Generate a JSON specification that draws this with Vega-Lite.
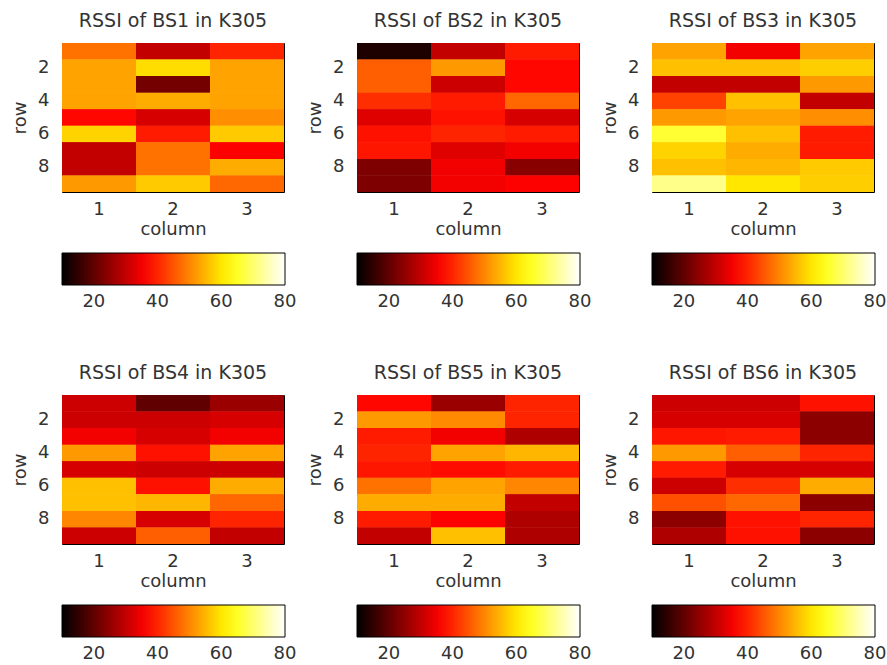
{
  "$schema": "https://vega.github.io/schema/vega-lite/v6.json",
  "background": "white",
  "padding": {"left": 11, "top": 11, "right": 0, "bottom": 0},
  "data": {"values": [
    {"bs":1,"row":1,"col":1,"rssi":48},{"bs":1,"row":1,"col":2,"rssi":30},{"bs":1,"row":1,"col":3,"rssi":40},
    {"bs":1,"row":2,"col":1,"rssi":53},{"bs":1,"row":2,"col":2,"rssi":59},{"bs":1,"row":2,"col":3,"rssi":53},
    {"bs":1,"row":3,"col":1,"rssi":53},{"bs":1,"row":3,"col":2,"rssi":22},{"bs":1,"row":3,"col":3,"rssi":53},
    {"bs":1,"row":4,"col":1,"rssi":53},{"bs":1,"row":4,"col":2,"rssi":54},{"bs":1,"row":4,"col":3,"rssi":53},
    {"bs":1,"row":5,"col":1,"rssi":37},{"bs":1,"row":5,"col":2,"rssi":32},{"bs":1,"row":5,"col":3,"rssi":51},
    {"bs":1,"row":6,"col":1,"rssi":58},{"bs":1,"row":6,"col":2,"rssi":39},{"bs":1,"row":6,"col":3,"rssi":57},
    {"bs":1,"row":7,"col":1,"rssi":30},{"bs":1,"row":7,"col":2,"rssi":48},{"bs":1,"row":7,"col":3,"rssi":36},
    {"bs":1,"row":8,"col":1,"rssi":30},{"bs":1,"row":8,"col":2,"rssi":48},{"bs":1,"row":8,"col":3,"rssi":54},
    {"bs":1,"row":9,"col":1,"rssi":52},{"bs":1,"row":9,"col":2,"rssi":57},{"bs":1,"row":9,"col":3,"rssi":47},
    {"bs":2,"row":1,"col":1,"rssi":13},{"bs":2,"row":1,"col":2,"rssi":30},{"bs":2,"row":1,"col":3,"rssi":39},
    {"bs":2,"row":2,"col":1,"rssi":46},{"bs":2,"row":2,"col":2,"rssi":52},{"bs":2,"row":2,"col":3,"rssi":37},
    {"bs":2,"row":3,"col":1,"rssi":46},{"bs":2,"row":3,"col":2,"rssi":31},{"bs":2,"row":3,"col":3,"rssi":37},
    {"bs":2,"row":4,"col":1,"rssi":41},{"bs":2,"row":4,"col":2,"rssi":39},{"bs":2,"row":4,"col":3,"rssi":47},
    {"bs":2,"row":5,"col":1,"rssi":33},{"bs":2,"row":5,"col":2,"rssi":38},{"bs":2,"row":5,"col":3,"rssi":32},
    {"bs":2,"row":6,"col":1,"rssi":38},{"bs":2,"row":6,"col":2,"rssi":40},{"bs":2,"row":6,"col":3,"rssi":39},
    {"bs":2,"row":7,"col":1,"rssi":38.5},{"bs":2,"row":7,"col":2,"rssi":33},{"bs":2,"row":7,"col":3,"rssi":35},
    {"bs":2,"row":8,"col":1,"rssi":23},{"bs":2,"row":8,"col":2,"rssi":35},{"bs":2,"row":8,"col":3,"rssi":24},
    {"bs":2,"row":9,"col":1,"rssi":23},{"bs":2,"row":9,"col":2,"rssi":35},{"bs":2,"row":9,"col":3,"rssi":36},
    {"bs":3,"row":1,"col":1,"rssi":53},{"bs":3,"row":1,"col":2,"rssi":35},{"bs":3,"row":1,"col":3,"rssi":53},
    {"bs":3,"row":2,"col":1,"rssi":56},{"bs":3,"row":2,"col":2,"rssi":56},{"bs":3,"row":2,"col":3,"rssi":57.5},
    {"bs":3,"row":3,"col":1,"rssi":30},{"bs":3,"row":3,"col":2,"rssi":30},{"bs":3,"row":3,"col":3,"rssi":52},
    {"bs":3,"row":4,"col":1,"rssi":43},{"bs":3,"row":4,"col":2,"rssi":56},{"bs":3,"row":4,"col":3,"rssi":30},
    {"bs":3,"row":5,"col":1,"rssi":52},{"bs":3,"row":5,"col":2,"rssi":53},{"bs":3,"row":5,"col":3,"rssi":51},
    {"bs":3,"row":6,"col":1,"rssi":66},{"bs":3,"row":6,"col":2,"rssi":56},{"bs":3,"row":6,"col":3,"rssi":39},
    {"bs":3,"row":7,"col":1,"rssi":58},{"bs":3,"row":7,"col":2,"rssi":54},{"bs":3,"row":7,"col":3,"rssi":39},
    {"bs":3,"row":8,"col":1,"rssi":56},{"bs":3,"row":8,"col":2,"rssi":55},{"bs":3,"row":8,"col":3,"rssi":57},
    {"bs":3,"row":9,"col":1,"rssi":72},{"bs":3,"row":9,"col":2,"rssi":60},{"bs":3,"row":9,"col":3,"rssi":57.5},
    {"bs":4,"row":1,"col":1,"rssi":31},{"bs":4,"row":1,"col":2,"rssi":20},{"bs":4,"row":1,"col":3,"rssi":26},
    {"bs":4,"row":2,"col":1,"rssi":31},{"bs":4,"row":2,"col":2,"rssi":31},{"bs":4,"row":2,"col":3,"rssi":32},
    {"bs":4,"row":3,"col":1,"rssi":35},{"bs":4,"row":3,"col":2,"rssi":32},{"bs":4,"row":3,"col":3,"rssi":35},
    {"bs":4,"row":4,"col":1,"rssi":52},{"bs":4,"row":4,"col":2,"rssi":38},{"bs":4,"row":4,"col":3,"rssi":53},
    {"bs":4,"row":5,"col":1,"rssi":32},{"bs":4,"row":5,"col":2,"rssi":31},{"bs":4,"row":5,"col":3,"rssi":31},
    {"bs":4,"row":6,"col":1,"rssi":56},{"bs":4,"row":6,"col":2,"rssi":38},{"bs":4,"row":6,"col":3,"rssi":54},
    {"bs":4,"row":7,"col":1,"rssi":56},{"bs":4,"row":7,"col":2,"rssi":55},{"bs":4,"row":7,"col":3,"rssi":47},
    {"bs":4,"row":8,"col":1,"rssi":50},{"bs":4,"row":8,"col":2,"rssi":32},{"bs":4,"row":8,"col":3,"rssi":40},
    {"bs":4,"row":9,"col":1,"rssi":31},{"bs":4,"row":9,"col":2,"rssi":46},{"bs":4,"row":9,"col":3,"rssi":30},
    {"bs":5,"row":1,"col":1,"rssi":37},{"bs":5,"row":1,"col":2,"rssi":26},{"bs":5,"row":1,"col":3,"rssi":40},
    {"bs":5,"row":2,"col":1,"rssi":52},{"bs":5,"row":2,"col":2,"rssi":50.5},{"bs":5,"row":2,"col":3,"rssi":40},
    {"bs":5,"row":3,"col":1,"rssi":39},{"bs":5,"row":3,"col":2,"rssi":35},{"bs":5,"row":3,"col":3,"rssi":28},
    {"bs":5,"row":4,"col":1,"rssi":40},{"bs":5,"row":4,"col":2,"rssi":53},{"bs":5,"row":4,"col":3,"rssi":55},
    {"bs":5,"row":5,"col":1,"rssi":38.5},{"bs":5,"row":5,"col":2,"rssi":37.5},{"bs":5,"row":5,"col":3,"rssi":39},
    {"bs":5,"row":6,"col":1,"rssi":48},{"bs":5,"row":6,"col":2,"rssi":53},{"bs":5,"row":6,"col":3,"rssi":50},
    {"bs":5,"row":7,"col":1,"rssi":54},{"bs":5,"row":7,"col":2,"rssi":54},{"bs":5,"row":7,"col":3,"rssi":30},
    {"bs":5,"row":8,"col":1,"rssi":39},{"bs":5,"row":8,"col":2,"rssi":36},{"bs":5,"row":8,"col":3,"rssi":28},
    {"bs":5,"row":9,"col":1,"rssi":30},{"bs":5,"row":9,"col":2,"rssi":56},{"bs":5,"row":9,"col":3,"rssi":28},
    {"bs":6,"row":1,"col":1,"rssi":31},{"bs":6,"row":1,"col":2,"rssi":31},{"bs":6,"row":1,"col":3,"rssi":38},
    {"bs":6,"row":2,"col":1,"rssi":32},{"bs":6,"row":2,"col":2,"rssi":32},{"bs":6,"row":2,"col":3,"rssi":24.5},
    {"bs":6,"row":3,"col":1,"rssi":38.5},{"bs":6,"row":3,"col":2,"rssi":39},{"bs":6,"row":3,"col":3,"rssi":24.5},
    {"bs":6,"row":4,"col":1,"rssi":52},{"bs":6,"row":4,"col":2,"rssi":46},{"bs":6,"row":4,"col":3,"rssi":40},
    {"bs":6,"row":5,"col":1,"rssi":39},{"bs":6,"row":5,"col":2,"rssi":32},{"bs":6,"row":5,"col":3,"rssi":32},
    {"bs":6,"row":6,"col":1,"rssi":31},{"bs":6,"row":6,"col":2,"rssi":41},{"bs":6,"row":6,"col":3,"rssi":54},
    {"bs":6,"row":7,"col":1,"rssi":44.5},{"bs":6,"row":7,"col":2,"rssi":47},{"bs":6,"row":7,"col":3,"rssi":24.5},
    {"bs":6,"row":8,"col":1,"rssi":24.5},{"bs":6,"row":8,"col":2,"rssi":38},{"bs":6,"row":8,"col":3,"rssi":40},
    {"bs":6,"row":9,"col":1,"rssi":28},{"bs":6,"row":9,"col":2,"rssi":38},{"bs":6,"row":9,"col":3,"rssi":24.5}
  ]},
  "columns": 3,
  "spacing": {"row": 51, "column": 8},
  "resolve": {"scale": {"color": "independent"}},
  "concat": [
    {"title": "RSSI of BS1 in K305", "transform": [{"filter": "datum.bs == 1"}], "width": 222, "height": 149,
     "layer": [{"mark": "rect"}, {"mark": "rect"}],
     "encoding": {
      "x": {"field": "col", "type": "ordinal", "title": "column", "scale": {"paddingInner": 0, "paddingOuter": 0}, "axis": {"labelAngle": 0}},
      "y": {"field": "row", "type": "ordinal", "title": "row", "scale": {"paddingInner": 0, "paddingOuter": 0}, "axis": {"values": [2, 4, 6, 8]}},
      "color": {"field": "rssi", "type": "quantitative", "scale": {"domain": [10, 36.25, 62.5, 80], "range": ["#000000", "#ff0000", "#ffff00", "#ffffff"], "interpolate": "rgb"},
        "legend": {"orient": "none", "legendX": 0, "legendY": 210, "direction": "horizontal", "gradientLength": 223, "gradientThickness": 32, "title": null, "values": [20, 40, 60, 80], "gradientStrokeColor": "#000", "gradientStrokeWidth": 1, "labelFontSize": 18, "labelColor": "#333", "labelOffset": 8, "labelFont": "DejaVu Sans", "encode": {"labels": {"update": {"align": {"value": "center"}}}}}}
     }},
    {"title": "RSSI of BS2 in K305", "transform": [{"filter": "datum.bs == 2"}], "width": 222, "height": 149,
     "layer": [{"mark": "rect"}, {"mark": "rect"}],
     "encoding": {
      "x": {"field": "col", "type": "ordinal", "title": "column", "scale": {"paddingInner": 0, "paddingOuter": 0}, "axis": {"labelAngle": 0}},
      "y": {"field": "row", "type": "ordinal", "title": "row", "scale": {"paddingInner": 0, "paddingOuter": 0}, "axis": {"values": [2, 4, 6, 8]}},
      "color": {"field": "rssi", "type": "quantitative", "scale": {"domain": [10, 36.25, 62.5, 80], "range": ["#000000", "#ff0000", "#ffff00", "#ffffff"], "interpolate": "rgb"},
        "legend": {"orient": "none", "legendX": 0, "legendY": 210, "direction": "horizontal", "gradientLength": 223, "gradientThickness": 32, "title": null, "values": [20, 40, 60, 80], "gradientStrokeColor": "#000", "gradientStrokeWidth": 1, "labelFontSize": 18, "labelColor": "#333", "labelOffset": 8, "labelFont": "DejaVu Sans", "encode": {"labels": {"update": {"align": {"value": "center"}}}}}}
     }},
    {"title": "RSSI of BS3 in K305", "transform": [{"filter": "datum.bs == 3"}], "width": 222, "height": 149,
     "layer": [{"mark": "rect"}, {"mark": "rect"}],
     "encoding": {
      "x": {"field": "col", "type": "ordinal", "title": "column", "scale": {"paddingInner": 0, "paddingOuter": 0}, "axis": {"labelAngle": 0}},
      "y": {"field": "row", "type": "ordinal", "title": "row", "scale": {"paddingInner": 0, "paddingOuter": 0}, "axis": {"values": [2, 4, 6, 8]}},
      "color": {"field": "rssi", "type": "quantitative", "scale": {"domain": [10, 36.25, 62.5, 80], "range": ["#000000", "#ff0000", "#ffff00", "#ffffff"], "interpolate": "rgb"},
        "legend": {"orient": "none", "legendX": 0, "legendY": 210, "direction": "horizontal", "gradientLength": 223, "gradientThickness": 32, "title": null, "values": [20, 40, 60, 80], "gradientStrokeColor": "#000", "gradientStrokeWidth": 1, "labelFontSize": 18, "labelColor": "#333", "labelOffset": 8, "labelFont": "DejaVu Sans", "encode": {"labels": {"update": {"align": {"value": "center"}}}}}}
     }},
    {"title": "RSSI of BS4 in K305", "transform": [{"filter": "datum.bs == 4"}], "width": 222, "height": 149,
     "layer": [{"mark": "rect"}, {"mark": "rect"}],
     "encoding": {
      "x": {"field": "col", "type": "ordinal", "title": "column", "scale": {"paddingInner": 0, "paddingOuter": 0}, "axis": {"labelAngle": 0}},
      "y": {"field": "row", "type": "ordinal", "title": "row", "scale": {"paddingInner": 0, "paddingOuter": 0}, "axis": {"values": [2, 4, 6, 8]}},
      "color": {"field": "rssi", "type": "quantitative", "scale": {"domain": [10, 36.25, 62.5, 80], "range": ["#000000", "#ff0000", "#ffff00", "#ffffff"], "interpolate": "rgb"},
        "legend": {"orient": "none", "legendX": 0, "legendY": 210, "direction": "horizontal", "gradientLength": 223, "gradientThickness": 32, "title": null, "values": [20, 40, 60, 80], "gradientStrokeColor": "#000", "gradientStrokeWidth": 1, "labelFontSize": 18, "labelColor": "#333", "labelOffset": 8, "labelFont": "DejaVu Sans", "encode": {"labels": {"update": {"align": {"value": "center"}}}}}}
     }},
    {"title": "RSSI of BS5 in K305", "transform": [{"filter": "datum.bs == 5"}], "width": 222, "height": 149,
     "layer": [{"mark": "rect"}, {"mark": "rect"}],
     "encoding": {
      "x": {"field": "col", "type": "ordinal", "title": "column", "scale": {"paddingInner": 0, "paddingOuter": 0}, "axis": {"labelAngle": 0}},
      "y": {"field": "row", "type": "ordinal", "title": "row", "scale": {"paddingInner": 0, "paddingOuter": 0}, "axis": {"values": [2, 4, 6, 8]}},
      "color": {"field": "rssi", "type": "quantitative", "scale": {"domain": [10, 36.25, 62.5, 80], "range": ["#000000", "#ff0000", "#ffff00", "#ffffff"], "interpolate": "rgb"},
        "legend": {"orient": "none", "legendX": 0, "legendY": 210, "direction": "horizontal", "gradientLength": 223, "gradientThickness": 32, "title": null, "values": [20, 40, 60, 80], "gradientStrokeColor": "#000", "gradientStrokeWidth": 1, "labelFontSize": 18, "labelColor": "#333", "labelOffset": 8, "labelFont": "DejaVu Sans", "encode": {"labels": {"update": {"align": {"value": "center"}}}}}}
     }},
    {"title": "RSSI of BS6 in K305", "transform": [{"filter": "datum.bs == 6"}], "width": 222, "height": 149,
     "layer": [{"mark": "rect"}, {"mark": "rect"}],
     "encoding": {
      "x": {"field": "col", "type": "ordinal", "title": "column", "scale": {"paddingInner": 0, "paddingOuter": 0}, "axis": {"labelAngle": 0}},
      "y": {"field": "row", "type": "ordinal", "title": "row", "scale": {"paddingInner": 0, "paddingOuter": 0}, "axis": {"values": [2, 4, 6, 8]}},
      "color": {"field": "rssi", "type": "quantitative", "scale": {"domain": [10, 36.25, 62.5, 80], "range": ["#000000", "#ff0000", "#ffff00", "#ffffff"], "interpolate": "rgb"},
        "legend": {"orient": "none", "legendX": 0, "legendY": 210, "direction": "horizontal", "gradientLength": 223, "gradientThickness": 32, "title": null, "values": [20, 40, 60, 80], "gradientStrokeColor": "#000", "gradientStrokeWidth": 1, "labelFontSize": 18, "labelColor": "#333", "labelOffset": 8, "labelFont": "DejaVu Sans", "encode": {"labels": {"update": {"align": {"value": "center"}}}}}}
     }}
  ],
  "config": {
    "font": "DejaVu Sans",
    "view": {"stroke": "#000", "strokeWidth": 1},
    "title": {"fontSize": 19, "fontWeight": "normal", "color": "#333", "offset": 12},
    "axis": {"labelFontSize": 18, "titleFontSize": 18, "titleFontWeight": "normal", "labelColor": "#333", "titleColor": "#333", "domain": false, "ticks": false, "grid": false, "labelPadding": 8},
    "axisY": {"labelPadding": 13, "titlePadding": 8},
    "axisX": {"titlePadding": 2}
  }
}
